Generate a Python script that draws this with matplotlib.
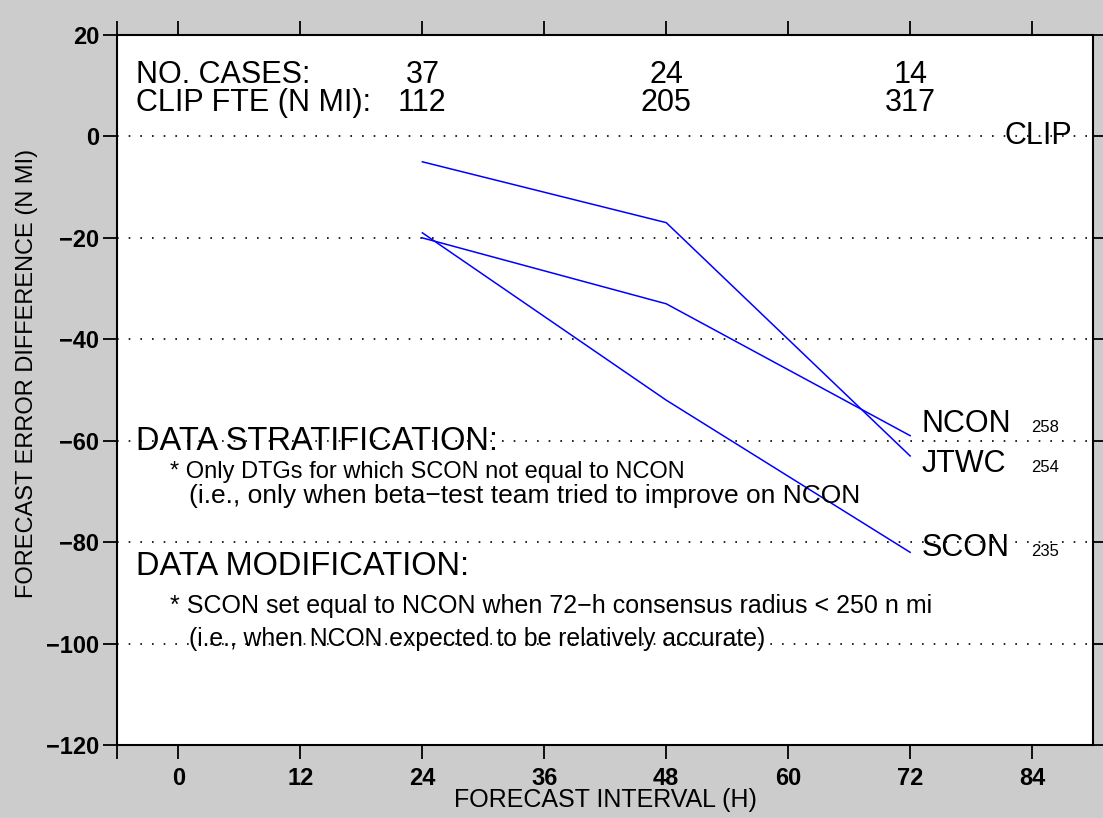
import matplotlib
matplotlib.use("Agg")
from matplotlib import pyplot as plt
from matplotlib.ticker import FixedLocator

plt.rcParams['font.family'] = ['Liberation Sans', 'DejaVu Sans']

# forecast hours and error differences vs CLIP (n mi)
hours = [24, 48, 72]
jtwc = [-5, -17, -63]
ncon = [-20, -33, -59]
scon = [-19, -52, -82]

cases = [37, 24, 14]
clip_fte = [112, 205, 317]
final_errors = {"NCON": 258, "JTWC": 254, "SCON": 235}

xticks = [0, 12, 24, 36, 48, 60, 72, 84]
yticks = [20, 0, -20, -40, -60, -80, -100, -120]
ytick_labels = ['20', '0', '\u221220', '\u221240', '\u221260', '\u221280',
                '\u2212100', '\u2212120']
grid_lines = [0, -20, -40, -60, -80, -100]

bg = '#cccccc'
fig = plt.figure(figsize=(11.03, 8.18), dpi=100, facecolor=bg)
ax = fig.add_axes([0.1065, 0.0892, 0.8845, 0.868])
ax.set_xlim(-6, 90)
ax.set_ylim(-120, 20)

for g in grid_lines:
    ax.axhline(g, color='black', lw=1.2, ls=(0, (1, 6)), zorder=1)

ax.plot(hours, jtwc, color='blue', lw=1.1, zorder=3)
ax.plot(hours, ncon, color='blue', lw=1.1, zorder=3)
ax.plot(hours, scon, color='blue', lw=1.1, zorder=3)

ax.set_xticks(xticks)
ax.set_yticks(yticks)
ax.set_yticklabels(ytick_labels)
ax.xaxis.set_minor_locator(FixedLocator([-6]))
ax.tick_params(axis='both', which='both', direction='out', length=10, width=1.3,
               top=True, right=True, labelsize=17)
ax.tick_params(axis='x', pad=6)
ax.tick_params(axis='y', pad=3)
for lab in ax.get_xticklabels() + ax.get_yticklabels():
    lab.set_fontweight('bold')
for sp in ax.spines.values():
    sp.set_linewidth(1.5)

ax.set_xlabel('FORECAST INTERVAL (H)', fontsize=18)
ax.set_ylabel('FORECAST ERROR DIFFERENCE (N MI)', fontsize=17)
ax.xaxis.set_label_coords(0.5, -0.061)
ax.yaxis.set_label_coords(-0.081, 0.524)

big = 22
ax.text(-4.2, 12.2, 'NO. CASES:', fontsize=big, va='center')
ax.text(-4.2, 6.5, 'CLIP FTE (N MI):', fontsize=big, va='center')
for h, c, f in zip(hours, cases, clip_fte):
    ax.text(h, 12.2, str(c), fontsize=big, va='center', ha='center')
    ax.text(h, 6.5, str(f), fontsize=big, va='center', ha='center')

ax.text(87.9, 0, 'CLIP', fontsize=big, va='center', ha='right')

label_y = {"NCON": -58.2, "JTWC": -66.1, "SCON": -82.8}
for name, val in final_errors.items():
    ax.text(73.1, label_y[name], name, fontsize=big, va='baseline')
    ax.text(83.9, label_y[name], str(val), fontsize=12, va='baseline')

head = 23.5
ax.text(-4.2, -61.9, 'DATA STRATIFICATION:', fontsize=head, va='baseline')
ax.text(-0.8, -67.3, '* Only DTGs for which SCON not equal to NCON',
        fontsize=17, va='baseline')
ax.text(1.0, -72.2, '(i.e., only when beta\u2212test team tried to improve on NCON',
        fontsize=19, va='baseline')
ax.text(-4.2, -86.4, 'DATA MODIFICATION:', fontsize=head, va='baseline')
ax.text(-0.8, -93.9, '* SCON set equal to NCON when 72\u2212h consensus radius < 250 n mi',
        fontsize=18, va='baseline')
ax.text(1.0, -100.4, '(i.e., when NCON expected to be relatively accurate)',
        fontsize=17.8, va='baseline')

fig.savefig('out.png', dpi=100, facecolor=bg)
